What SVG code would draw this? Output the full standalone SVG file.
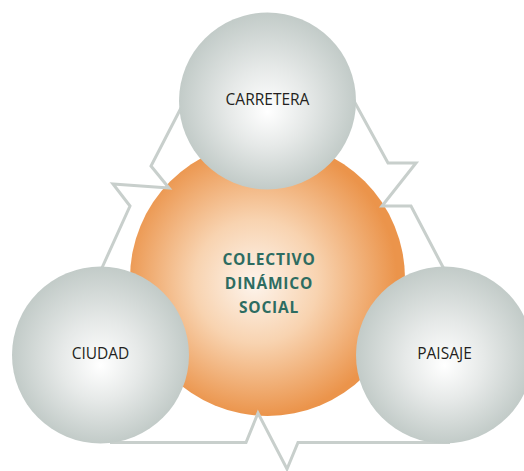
<svg xmlns="http://www.w3.org/2000/svg" width="524" height="471" viewBox="0 0 524 471">
<defs>
<radialGradient id="gOrange" cx="0.47" cy="0.5" r="0.5" fx="0.45" fy="0.52">
<stop offset="0" stop-color="#fdf4ec"/>
<stop offset="0.45" stop-color="#f8d3b0"/>
<stop offset="1" stop-color="#eb944b"/>
</radialGradient>
<radialGradient id="gGray" cx="0.5" cy="0.5" r="0.5" fx="0.5" fy="0.56">
<stop offset="0" stop-color="#ffffff"/>
<stop offset="0.45" stop-color="#e6e9e8"/>
<stop offset="1" stop-color="#c2cbc8"/>
</radialGradient>
<style>
.gray{fill:url(#gGray);}
.lbl{font-family:"Open Sans","Noto Sans",sans-serif;font-size:15.5px;fill:#231f20;text-anchor:middle;}
.ctr{font-family:"Open Sans","Noto Sans",sans-serif;font-size:15.5px;font-weight:bold;fill:#2d6c61;text-anchor:middle;letter-spacing:0.8px;}
.conn{fill:none;stroke:#c8cfcc;stroke-width:3;stroke-linejoin:miter;}
</style>
</defs>
<g id="colectivo">
<circle cx="267.5" cy="278.5" r="137.5" fill="url(#gOrange)"/>
<text class="ctr" x="269" y="265">COLECTIVO</text>
<text class="ctr" x="269" y="289">DINÁMICO</text>
<text class="ctr" x="269" y="313">SOCIAL</text>
</g>
<g id="connectors">
<polyline class="conn" points="182,106 151,166 169,188 113,184 130,206 101,270"/>
<polyline class="conn" points="354,101 388,163 416,163 382,206 411,206 445,271"/>
<polyline class="conn" points="110,442.5 246,442.5 258,413 287,469 298,442.5 450,442.5"/>
</g>
<g id="carretera">
<circle class="gray" cx="267.5" cy="101" r="88.5"/>
<text class="lbl" x="267.5" y="104.5">CARRETERA</text>
</g>
<g id="ciudad">
<circle class="gray" cx="100.5" cy="355" r="88.5"/>
<text class="lbl" x="100.5" y="359">CIUDAD</text>
</g>
<g id="paisaje">
<circle class="gray" cx="444.5" cy="355" r="88.5"/>
<text class="lbl" x="444.5" y="359">PAISAJE</text>
</g>
</svg>
